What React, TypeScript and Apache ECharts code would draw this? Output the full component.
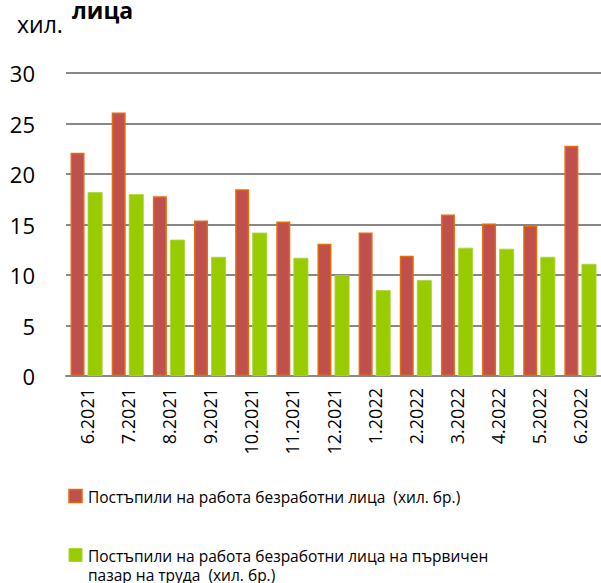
import React, { useEffect, useRef } from "react";
import * as echarts from "echarts";

const categories = [
  "6.2021", "7.2021", "8.2021", "9.2021", "10.2021", "11.2021", "12.2021",
  "1.2022", "2.2022", "3.2022", "4.2022", "5.2022", "6.2022",
];
const hiredAll = [22.1, 26.1, 17.8, 15.4, 18.5, 15.3, 13.1, 14.2, 11.9, 16.0, 15.1, 14.9, 22.8];
const hiredPrimary = [18.2, 18.0, 13.5, 11.8, 14.2, 11.7, 10.0, 8.5, 9.5, 12.7, 12.6, 11.8, 11.1];
const seriesNames = [
  "Постъпили на работа безработни лица  (хил. бр.)",
  "Постъпили на работа безработни лица на първичен пазар на труда  (хил. бр.)",
];
const legendLines = [
  ["Постъпили на работа безработни лица  (хил. бр.)"],
  ["Постъпили на работа безработни лица на първичен", "пазар на труда  (хил. бр.)"],
];
const yTicks = { min: 0, max: 30, interval: 5 };
const unitText = "хил.";
const unitText2 = "лица";

const FONT = "'Open Sans', 'Noto Sans', sans-serif";

export default function App() {
  const ref = useRef<HTMLDivElement>(null);
  useEffect(() => {
    if (!ref.current) return;
    const chart = echarts.init(ref.current, undefined, { renderer: "svg" });
    const legendFont = 15.5;
    const graphic: any[] = [
      {
        type: "text",
        x: 17,
        y: 23.5,
        style: { text: unitText, font: `23px ${FONT}`, fill: "#000", verticalAlign: "middle" },
      },
      {
        type: "text",
        x: 72,
        y: 10,
        style: { text: unitText2, font: `bold 23px ${FONT}`, fill: "#000", verticalAlign: "middle" },
      },
      {
        type: "rect",
        shape: { x: 69, y: 489.5, width: 13, height: 13 },
        style: { fill: "#C0504D", stroke: "#E46C0A", lineWidth: 1.5 },
      },
      {
        type: "rect",
        shape: { x: 69, y: 548.5, width: 13, height: 13 },
        style: { fill: "#99CC00", stroke: "#A8D63A", lineWidth: 1 },
      },
    ];
    const blockCenters = [497, 565.5];
    legendLines.forEach((lines, i) => {
      graphic.push({
        type: "text",
        x: 88,
        y: blockCenters[i],
        style: {
          text: lines.join("\n"),
          font: `${legendFont}px ${FONT}`,
          lineHeight: 19.5,
          fill: "#000",
          verticalAlign: "middle",
        },
      });
    });

    chart.setOption({
      animation: false,
      textStyle: { fontFamily: FONT },
      grid: { left: 66, right: -3, top: 73, bottom: 207, containLabel: false },
      xAxis: {
        type: "category",
        data: categories,
        axisLine: { show: true, lineStyle: { color: "#888888", width: 2 } },
        axisTick: { show: false },
        axisLabel: {
          rotate: 90,
          margin: 12,
          fontSize: 18,
          color: "#000",
          fontFamily: FONT,
          interval: 0,
        },
      },
      yAxis: {
        type: "value",
        min: yTicks.min,
        max: yTicks.max,
        interval: yTicks.interval,
        axisLine: { show: false },
        axisTick: { show: false },
        axisLabel: { fontSize: 22, color: "#000", margin: 31, fontFamily: FONT },
        splitLine: { show: true, lineStyle: { color: "#888888", width: 2 } },
      },
      series: [
        {
          name: seriesNames[0],
          type: "bar",
          data: hiredAll,
          barWidth: 14,
          barGap: "22%",
          itemStyle: { color: "#C0504D", borderColor: "#E46C0A", borderWidth: 1.5 },
        },
        {
          name: seriesNames[1],
          type: "bar",
          data: hiredPrimary,
          barWidth: 15,
          itemStyle: { color: "#99CC00", borderColor: "#A8D63A", borderWidth: 0.8 },
        },
      ],
      graphic,
    });
    return () => chart.dispose();
  }, []);
  return (
    <div
      ref={ref}
      style={{ position: "absolute", left: 0, top: 0, width: 601, height: 583 }}
    />
  );
}
